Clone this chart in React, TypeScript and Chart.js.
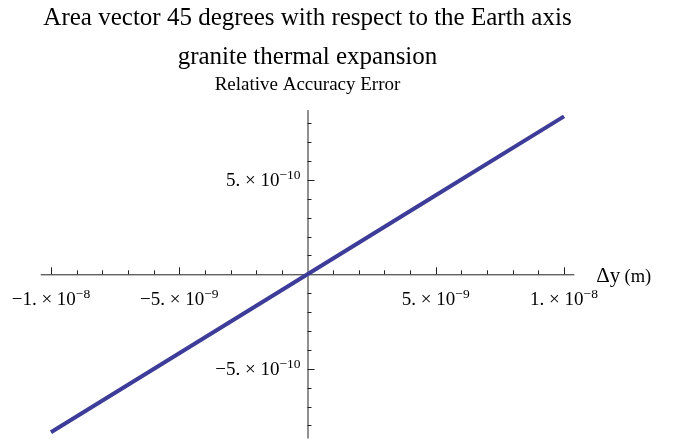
import React, { useEffect, useRef } from "react";
import { Chart, registerables } from "chart.js";

Chart.register(...registerables);

// ---- data ----
const titleLines = ["Area vector 45 degrees with respect to the Earth axis", "granite thermal expansion"];
const subtitle = "Relative Accuracy Error";
const xValues = [-1e-8, -5e-9, 0, 5e-9, 1e-8];
const yValues = [-8.36e-10, -4.18e-10, 0, 4.18e-10, 8.36e-10];
const xMajorTicks = [-1e-8, -5e-9, 5e-9, 1e-8];
const xMajorLabels = [["\u22121.", "\u22128"], ["\u22125.", "\u22129"], ["5.", "\u22129"], ["1.", "\u22128"]];
const yMajorTicks = [5e-10, -5e-10];
const yMajorLabels = [["5.", "\u221210"], ["\u22125.", "\u221210"]];
const xMinorStep = 1e-9;
const xMinorCount = 10;
const yMinorStep = 1e-10;
const yMinorCount = 8;
const xRange = [-1.04e-8, 1.04e-8];
const yRange = [-8.69e-10, 8.69e-10];

const FONT = '"Liberation Serif", "Times New Roman", serif';
const LINE_COLOR = "#3d3d99";
const AXIS_COLOR = "#222";

function sciWidth(ctx: CanvasRenderingContext2D, mant: string, exp: string) {
  ctx.font = `19px ${FONT}`;
  const w1 = ctx.measureText(mant + " \u00d7 10").width;
  ctx.font = `13.5px ${FONT}`;
  const w2 = ctx.measureText(exp).width;
  return w1 + w2;
}

function drawSci(ctx: CanvasRenderingContext2D, mant: string, exp: string, x: number, baseline: number, align: "center" | "right") {
  const total = sciWidth(ctx, mant, exp);
  let left = align === "center" ? x - total / 2 : x - total;
  ctx.textAlign = "left";
  ctx.textBaseline = "alphabetic";
  ctx.fillStyle = "#000";
  ctx.font = `19px ${FONT}`;
  const base = mant + " \u00d7 10";
  ctx.fillText(base, left, baseline);
  const w1 = ctx.measureText(base).width;
  ctx.font = `13.5px ${FONT}`;
  ctx.fillText(exp, left + w1, baseline - 7.5);
}

const axesPlugin = {
  id: "crossAxes",
  beforeDatasetsDraw(chart: any) {
    const ctx: CanvasRenderingContext2D = chart.ctx;
    const xs = chart.scales.x;
    const ys = chart.scales.y;
    const area = chart.chartArea;
    const ox = xs.getPixelForValue(0);
    const oy = ys.getPixelForValue(0);
    ctx.save();
    ctx.strokeStyle = AXIS_COLOR;
    ctx.lineWidth = 1;
    ctx.beginPath();
    ctx.moveTo(area.left, oy + 0.5);
    ctx.lineTo(area.right, oy + 0.5);
    ctx.moveTo(ox + 0.5, area.top);
    ctx.lineTo(ox + 0.5, area.bottom);
    // x ticks (upward)
    for (let i = -xMinorCount; i <= xMinorCount; i++) {
      if (i === 0) continue;
      const v = i * xMinorStep;
      const px = Math.round(xs.getPixelForValue(v)) + 0.5;
      const major = i % 5 === 0;
      ctx.moveTo(px, oy);
      ctx.lineTo(px, oy - (major ? 7 : 4));
    }
    // y ticks (rightward)
    for (let i = -yMinorCount; i <= yMinorCount; i++) {
      if (i === 0) continue;
      const v = i * yMinorStep;
      const py = Math.round(ys.getPixelForValue(v)) + 0.5;
      const major = i % 5 === 0;
      ctx.moveTo(ox, py);
      ctx.lineTo(ox + (major ? 7 : 4), py);
    }
    ctx.stroke();
    ctx.restore();
  },
  afterDraw(chart: any) {
    const ctx: CanvasRenderingContext2D = chart.ctx;
    const xs = chart.scales.x;
    const ys = chart.scales.y;
    const area = chart.chartArea;
    const ox = xs.getPixelForValue(0);
    const oy = ys.getPixelForValue(0);
    ctx.save();
    xMajorTicks.forEach((v, i) => {
      drawSci(ctx, xMajorLabels[i][0], xMajorLabels[i][1], xs.getPixelForValue(v), oy + 31, "center");
    });
    yMajorTicks.forEach((v, i) => {
      drawSci(ctx, yMajorLabels[i][0], yMajorLabels[i][1], ox - 7, ys.getPixelForValue(v) + 6.5, "right");
    });
    // axis label
    ctx.fillStyle = "#000";
    ctx.textAlign = "left";
    ctx.textBaseline = "alphabetic";
    ctx.font = `21px ${FONT}`;
    const lx = area.right + 22;
    ctx.fillText("\u0394y", lx, oy + 8);
    const w = ctx.measureText("\u0394y ").width;
    ctx.font = `18.5px ${FONT}`;
    ctx.fillText("(m)", lx + w - 1, oy + 8);
    // titles
    ctx.textAlign = "center";
    ctx.font = `25px ${FONT}`;
    ctx.fillText(titleLines[0], ox, 25);
    ctx.fillText(titleLines[1], ox, 64);
    ctx.font = `19px ${FONT}`;
    ctx.fillText(subtitle, ox, 90);
    ctx.restore();
  },
};

export default function App() {
  const ref = useRef<HTMLCanvasElement>(null);
  useEffect(() => {
    if (!ref.current) return;
    const chart = new Chart(ref.current, {
      type: "scatter",
      data: {
        datasets: [
          {
            data: xValues.map((x, i) => ({ x, y: yValues[i] })),
            showLine: true,
            borderColor: LINE_COLOR,
            backgroundColor: LINE_COLOR,
            borderWidth: 4,
            pointRadius: 0,
            pointHoverRadius: 0,
          },
        ],
      },
      options: {
        responsive: false,
        animation: false,
        events: [],
        layout: { padding: { left: 40.7, right: 103.7, top: 110.1, bottom: 4.5 } },
        scales: {
          x: { type: "linear", min: xRange[0], max: xRange[1], display: false },
          y: { type: "linear", min: yRange[0], max: yRange[1], display: false },
        },
        plugins: { legend: { display: false }, tooltip: { enabled: false }, title: { display: false } },
      },
      plugins: [axesPlugin],
    });
    return () => chart.destroy();
  }, []);
  return (
    <div style={{ position: "fixed", left: 0, top: 0, width: 678, height: 443, background: "#fff" }}>
      <canvas ref={ref} width={678} height={443} style={{ display: "block" }} />
    </div>
  );
}
